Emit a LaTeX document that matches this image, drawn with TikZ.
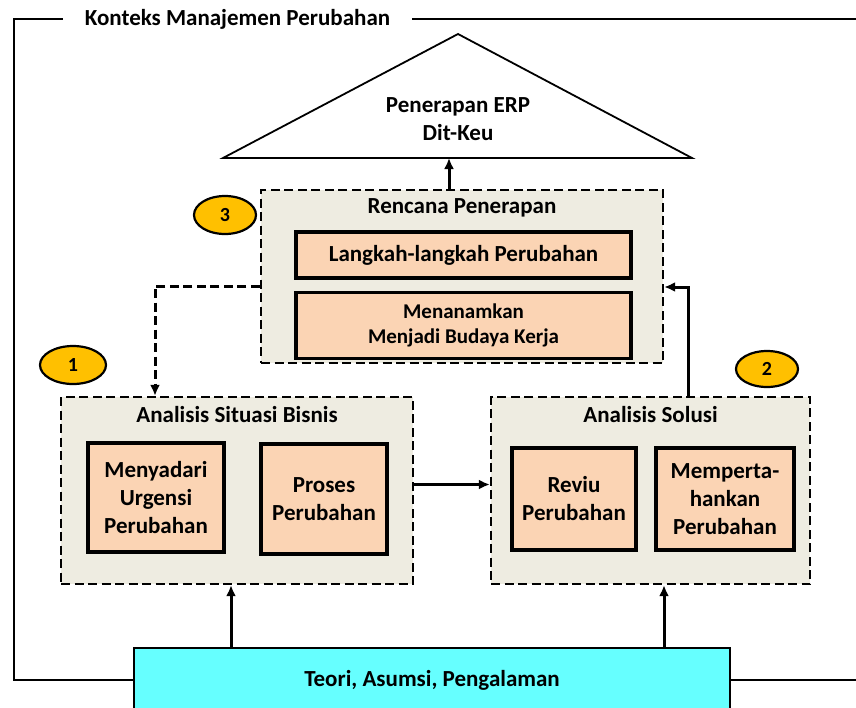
\documentclass[tikz,border=0pt]{standalone}
\usepackage{fontspec}
\setmainfont{Carlito}
\usetikzlibrary{shapes.geometric, arrows.meta, positioning}
\definecolor{panelbg}{HTML}{EEECE1}
\definecolor{peach}{HTML}{FBD4B4}
\definecolor{gold}{HTML}{FFC000}
\definecolor{aqua}{HTML}{66FFFF}
\tikzset{
    panel/.style={rectangle, draw, dash pattern=on 9pt off 4.5pt, line width=2.3pt, fill=panelbg, inner sep=0pt},
    block/.style={rectangle, draw, line width=3.6pt, fill=peach, align=center, font=\fontsize{23}{28}\selectfont\bfseries, inner sep=0pt},
    caption/.style={font=\fontsize{23}{28}\selectfont\bfseries, align=center, inner sep=0pt},
    badge/.style={ellipse, draw, line width=2.2pt, fill=gold, inner sep=0pt, font=\fontsize{20}{24}\selectfont\bfseries},
    arrow/.style={-{Latex[length=11pt, width=10pt]}, line width=3pt},
    dashedarrow/.style={-{Latex[length=11pt, width=10pt]}, line width=3pt, dash pattern=on 9pt off 4.5pt},
    frameline/.style={line width=2.6pt},
}

\begin{document}
\begin{tikzpicture}[x=1pt, y=-1pt]
    \clip (0,0) rectangle (856,707);
    % roof
    \coordinate (apex) at (458,34);
    \coordinate (eaveL) at (223,158);
    \coordinate (eaveR) at (692,158);
    \coordinate (roofbase) at (449,158);
    \draw[line width=1.8pt, fill=white] (eaveL) -- (apex) -- (eaveR) -- cycle;
    \node[caption] (erp) at (458,119) {Penerapan ERP\\Dit-Keu};
    % panels
    \node[panel, minimum width=402pt, minimum height=173pt] (plan) at (462,276.5) {};
    \node[caption, below=10pt of plan.north] (plantitle) {Rencana Penerapan};
    \node[block, minimum width=335pt, minimum height=46pt] (steps) at (463.5,255) {Langkah-langkah Perubahan};
    \node[block, below=11pt of steps, minimum width=335pt, minimum height=66pt, font=\fontsize{21}{25}\selectfont\bfseries] (culture) {Menanamkan\\Menjadi Budaya Kerja};
    \node[panel, minimum width=352pt, minimum height=187pt] (situation) at (237,490.5) {};
    \node[caption, below=10pt of situation.north] (sittitle) {Analisis Situasi Bisnis};
    \node[block, minimum width=136pt, minimum height=109pt] (aware) at (156,497.5) {Menyadari\\Urgensi\\Perubahan};
    \node[block, minimum width=126pt, minimum height=110pt] (process) at (324,499) {Proses\\Perubahan};
    \node[panel, minimum width=319pt, minimum height=187pt] (solution) at (650.5,490.5) {};
    \node[caption, below=10pt of solution.north] (soltitle) {Analisis Solusi};
    \node[block, minimum width=124pt, minimum height=102pt] (review) at (574,499) {Reviu\\Perubahan};
    \node[block, minimum width=138pt, minimum height=102pt] (sustain) at (725,499) {Memperta-\\hankan\\Perubahan};
    \node[caption, draw, line width=2.2pt, fill=aqua, minimum width=596pt, minimum height=64pt] (theory) at (432,680) {Teori, Asumsi, Pengalaman};
    % context frame
    \node[caption, inner xsep=22pt] (ctx) at (237.5,19) {Konteks Manajemen Perubahan};
    \draw[frameline] (ctx.west) -- (14,19) -- (14,680) -- (theory.west);
    \draw[frameline] (ctx.east) -- (880,19);
    \draw[frameline] (theory.east) -- (880,680);
    % connectors
    \draw[arrow] (plan.north -| roofbase) -- (roofbase);
    \draw[dashedarrow] ([yshift=-9.5pt]plan.west) -| ([xshift=-82pt]situation.north);
    \draw[arrow] ([yshift=6pt]situation.east) -- ([yshift=6pt]solution.west);
    \draw[arrow] ([xshift=37.5pt]solution.north) |- ([yshift=-10.5pt]plan.east);
    \draw[arrow] ([xshift=-201pt]theory.north) -- ([xshift=-201pt]theory.north |- situation.south);
    \draw[arrow] ([xshift=232pt]theory.north) -- ([xshift=232pt]theory.north |- solution.south);
    % badges
    \node[badge, minimum width=66pt, minimum height=38pt] (one) at (73,365) {1};
    \node[badge, minimum width=62pt, minimum height=36pt] (two) at (767,369) {2};
    \node[badge, minimum width=62pt, minimum height=38pt] (three) at (225,215) {3};
\end{tikzpicture}
\end{document}
